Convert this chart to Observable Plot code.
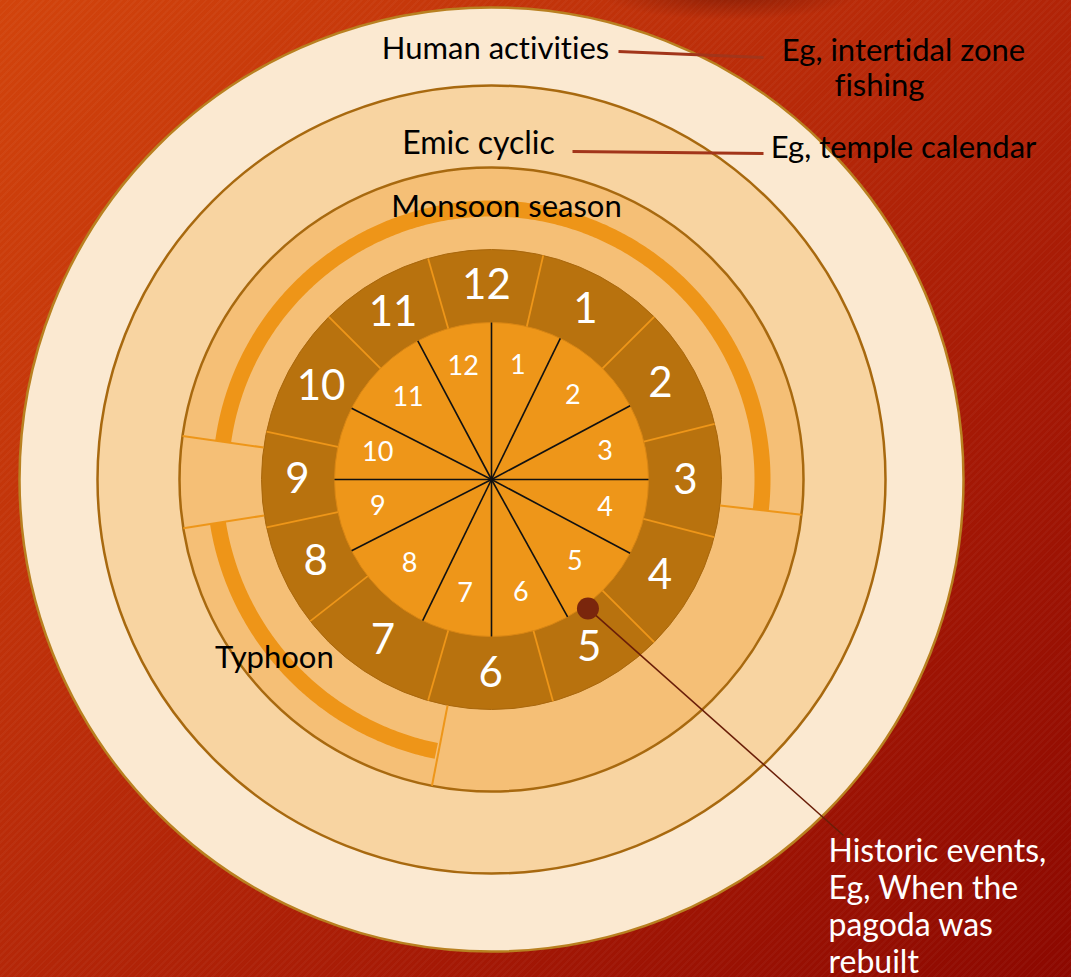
<!DOCTYPE html>
<html>
<head>
<meta charset="utf-8">
<script src="https://cdn.jsdelivr.net/npm/d3@7"></script>
<script src="https://cdn.jsdelivr.net/npm/@observablehq/plot@0.6"></script>
<style>
  html, body { margin: 0; padding: 0; background: #A81E06; overflow: hidden; }
  #chart svg { display: block; }
  #chart svg text { font-variant-ligatures: none; font-feature-settings: "liga" 0; }
</style>
</head>
<body>
<div id="chart"></div>
<script>
// ---------------- DATA ----------------
const layerNames = ["Human activities", "Emic cyclic", "Monsoon season"];
const layerExamples = ["Eg, intertidal zone\nfishing", "Eg, temple calendar"];
const months = [1, 2, 3, 4, 5, 6, 7, 8, 9, 10, 11, 12];
// start angle (degrees clockwise from 12 o'clock) of each month in the outer month ring
const monthRingStart = [13, 45, 76, 104.5, 135, 164.5, 196, 232, 258, 282, 315, 344];
// start angle of each month in the inner (emic) pie
const innerPieStart = [0, 26, 62, 90, 118, 151, 180, 206, 243, 270, 297, 332];
// seasonal band
const seasonNames = ["Monsoon season", "Typhoon"];
const seasonStart = [278, 191.5];
const seasonEnd = [456.5, 261];
const bandBoundaries = [96.5, 191, 261, 278];
// historic event marker
const eventText = "Historic events,\nEg, When the\npagoda was\nrebuilt";
const eventAngle = 143.2;

// ---------------- LAYOUT ----------------
const W = 1071, H = 977, CX = 491, CY = 479;
const R = {outer: 472, emic: 394, band: 312, month: 230, inner: 157};
const FONT = "Lato, 'Open Sans', sans-serif";
const rad = a => a * Math.PI / 180;
const px = (a, r) => r * Math.sin(rad(a));
const py = (a, r) => -r * Math.cos(rad(a));

const rings = [
  {r: R.outer, fill: "#FBE9D1", stroke: "#B98020", sw: 2.5},
  {r: R.emic,  fill: "#F8D4A1", stroke: "#A8690F", sw: 2.5},
  {r: R.band,  fill: "#F5BF76", stroke: "#A8690F", sw: 2.5},
  {r: R.month, fill: "#B8720E", stroke: "#A9670C", sw: 1},
  {r: R.inner, fill: "#EE9619", stroke: "#D98614", sw: 1}
];

const monthRing = months.map((m, i) => {
  const a0 = monthRingStart[i];
  const a1 = monthRingStart[(i + 1) % 12] + (i === 11 ? 360 : 0);
  return {m, a0, mid: (a0 + a1) / 2};
});
const innerPie = months.map((m, i) => {
  const a0 = innerPieStart[i];
  const a1 = i === 11 ? 360 : innerPieStart[i + 1];
  return {m, a0, mid: (a0 + a1) / 2};
});

const seasonArcs = [];
seasonNames.forEach((name, i) => {
  const r = i === 0 ? 271 : 277;
  const angles = d3.range(seasonStart[i], seasonEnd[i], 0.5).concat([seasonEnd[i]]);
  angles.forEach(a => seasonArcs.push({name, x: px(a, r), y: py(a, r)}));
});

const ringLabels = [
  {text: layerNames[0], x: 4,   y: -430, ls: 0},
  {text: layerNames[1], x: -13, y: -336, ls: 1.2},
  {text: layerNames[2], x: 15,  y: -272, ls: 0},
  {text: seasonNames[1], x: px(230.6, 281), y: py(230.6, 281), ls: 0}
];
// example lines: each line of the example texts, placed individually
const exampleAnchors = [[{x: 412, y: -428}, {x: 388, y: -393}], [{x: 412, y: -331}]];
const exampleLabels = layerExamples.flatMap((t, i) =>
  t.split("\n").map((line, j) => ({text: line, ...exampleAnchors[i][j]})));
const leaders = [
  {x1: 127, y1: -428, x2: 272, y2: -422, stroke: "#A2351A", sw: 3},
  {x1: 81,  y1: -328, x2: 272, y2: -326, stroke: "#A2351A", sw: 3},
  {x1: px(eventAngle, 161), y1: py(eventAngle, 161), x2: 352, y2: 356, stroke: "#6A1E08", sw: 1.5}
];

const chart = Plot.plot({
  width: W,
  height: H,
  margin: 0,
  x: {domain: [-CX, W - CX], range: [0, W], axis: null},
  y: {domain: [-CY, H - CY], range: [0, H], axis: null},
  r: {type: "identity"},
  style: {
    background: "radial-gradient(ellipse 130px 26px at 730px -6px, rgba(70,8,0,0.42), rgba(70,8,0,0)), " +
      "repeating-linear-gradient(135deg, rgba(255,255,255,0.03) 0 2px, rgba(0,0,0,0) 2px 5px), " +
      "linear-gradient(135deg, #D2440C 0%, #BA2C09 40%, #A41805 70%, #8C0800 100%)",
    overflow: "visible"
  },
  marks: [
    Plot.dot(rings, {x: () => 0, y: () => 0, r: "r", fill: "fill", stroke: "stroke", strokeWidth: "sw"}),
    Plot.link(bandBoundaries, {
      x1: a => px(a, R.month), y1: a => py(a, R.month),
      x2: a => px(a, R.band), y2: a => py(a, R.band),
      stroke: "#EE9619", strokeWidth: 2
    }),
    Plot.line(seasonArcs, {x: "x", y: "y", z: "name", stroke: "#EE9518", strokeWidth: 16,
      strokeLinecap: "butt", strokeLinejoin: "round", curve: "linear"}),
    Plot.link(monthRing, {
      x1: d => px(d.a0, R.inner), y1: d => py(d.a0, R.inner),
      x2: d => px(d.a0, R.month), y2: d => py(d.a0, R.month),
      stroke: "#EE9619", strokeWidth: 1.8
    }),
    Plot.link(innerPie, {
      x1: () => 0, y1: () => 0,
      x2: d => px(d.a0, R.inner), y2: d => py(d.a0, R.inner),
      stroke: "#111", strokeWidth: 1.6
    }),
    Plot.text(monthRing, {x: d => px(d.mid, 194), y: d => py(d.mid, 194), text: d => String(d.m),
      fill: "white", fontSize: 42, fontFamily: FONT, lineAnchor: "middle"}),
    Plot.text(innerPie, {x: d => px(d.mid, 117), y: d => py(d.mid, 117), text: d => String(d.m),
      fill: "white", fontSize: 27, fontFamily: FONT, lineAnchor: "middle"}),
    Plot.link(leaders, {x1: "x1", y1: "y1", x2: "x2", y2: "y2", stroke: "stroke", strokeWidth: "sw"}),
    Plot.dot([eventAngle], {x: a => px(a, 161), y: a => py(a, 161), r: () => 11, fill: "#7A260C"}),
    Plot.text(ringLabels.filter(d => !d.ls), {x: "x", y: "y", text: "text", fill: "black", fontSize: 31,
      fontFamily: FONT, lineAnchor: "middle", textAnchor: "middle"}),
    Plot.text(ringLabels.filter(d => d.ls), {x: "x", y: "y", text: "text", fill: "black", fontSize: 32,
      fontFamily: FONT, lineAnchor: "middle", textAnchor: "middle", letterSpacing: "1px"}),
    Plot.text(exampleLabels, {x: "x", y: "y", text: "text", fill: "black", fontSize: 31,
      fontFamily: FONT, lineAnchor: "middle", textAnchor: "middle"}),
    Plot.text([eventText], {x: () => 337, y: () => 356, text: d => d, fill: "white", fontSize: 32,
      fontFamily: FONT, lineAnchor: "top", textAnchor: "start", lineHeight: 1.16})
  ]
});
document.getElementById("chart").appendChild(chart);
</script>
</body>
</html>
